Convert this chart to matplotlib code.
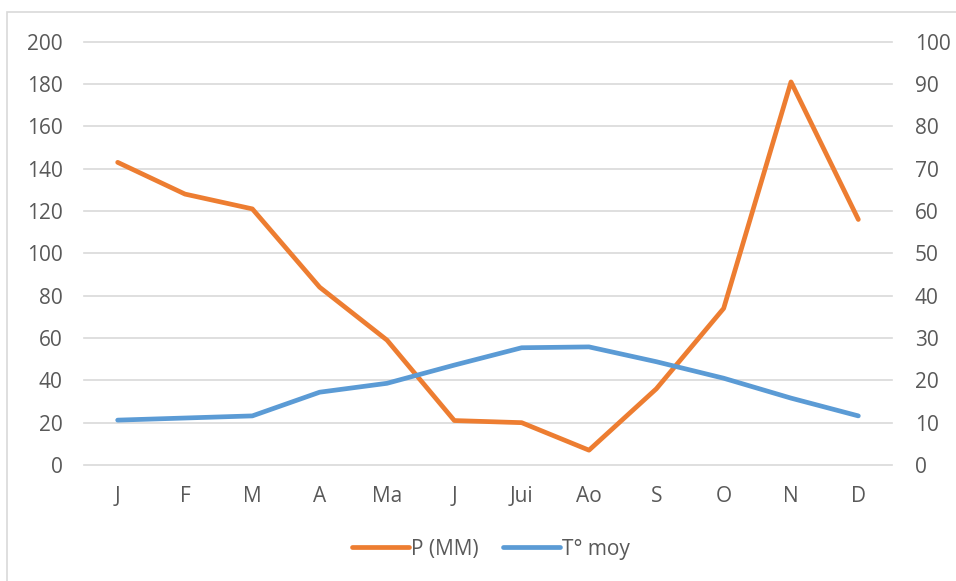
import matplotlib.pyplot as plt

mois = ["J", "F", "M", "A", "Ma", "J", "Jui", "Ao", "S", "O", "N", "D"]
precip = [143, 128, 121, 84, 59, 21, 20, 7, 36, 74, 181, 116]
temp = [10.6, 11.1, 11.6, 17.2, 19.3, 23.6, 27.7, 27.9, 24.4, 20.5, 15.8, 11.6]

orange = "#ED7D31"
bleu = "#5B9BD5"
gris = "#595959"

plt.rcParams['font.family'] = ['Open Sans', 'DejaVu Sans']

fig = plt.figure(figsize=(9.56, 5.81), dpi=100)
ax = fig.add_axes([84 / 956, 1 - 465 / 581, 808 / 956, 423.3 / 581])
ax2 = ax.twinx()

x = list(range(len(mois)))
l1, = ax.plot(x, precip, color=orange, lw=3.4, solid_capstyle='round', solid_joinstyle='round', label="P (MM)")
l2, = ax2.plot(x, temp, color=bleu, lw=3.4, solid_capstyle='round', solid_joinstyle='round', label="T° moy")

ax.set_xlim(-0.5, 11.5)
ax.set_ylim(0, 200)
ax2.set_ylim(0, 100)
ax.set_yticks(range(0, 201, 20))
ax2.set_yticks(range(0, 101, 10))
ax.set_xticks(x)
ax.set_xticklabels(mois)

ax.grid(axis='y', color="#D9D9D9", lw=1.2)
for gl in ax.get_ygridlines():
    gl.set_clip_on(False)
ax.set_axisbelow(True)
for a in (ax, ax2):
    for s in a.spines.values():
        s.set_visible(False)
    a.tick_params(length=0, labelsize=15, colors=gris)
ax.tick_params(axis='y', pad=15.5)
ax2.tick_params(axis='y', pad=16.5)
ax.tick_params(axis='x', pad=15)

# cadre du graphique (déborde à droite et en bas)
fig.patches.append(plt.Rectangle((7 / 956, -10 / 581), 960 / 956, 579 / 581, transform=fig.transFigure,
                                 fill=False, edgecolor="#D9D9D9", lw=1.2))

fig.legend(handles=[l1, l2], loc='center', bbox_to_anchor=(491 / 956, 1 - 549 / 581), ncol=2,
           frameon=False, fontsize=15, labelcolor=gris, handlelength=2.7, handletextpad=0.1,
           columnspacing=1.2)

fig.savefig("out.png", dpi=100)
